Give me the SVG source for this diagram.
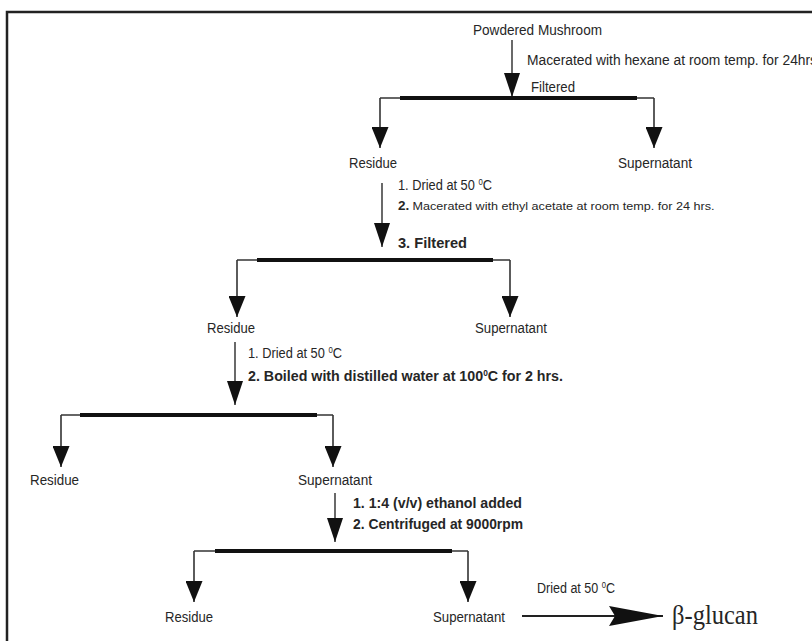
<svg xmlns="http://www.w3.org/2000/svg" width="812" height="641" viewBox="0 0 812 641">
<style>
text{font-family:"Liberation Sans",Arial,sans-serif;fill:#262626;}
.lb{font-size:14px;}
.sm{font-size:11.5px;}
.bd{font-size:14.5px;font-weight:bold;}
.sup{font-size:8.5px;}
.thin{stroke:#333;stroke-width:1.6;fill:none;}
.thick{stroke:#111;stroke-width:4;fill:none;}
.main{stroke:#444;stroke-width:1.6;fill:none;marker-end:url(#amain);}
.br{stroke:#333;stroke-width:1.6;fill:none;marker-end:url(#abr);}
.frame{stroke:#222;stroke-width:2.5;fill:none;}
.gl{font-family:"Liberation Serif","Times New Roman",serif;font-size:27px;}
</style>
<defs>
<marker id="amain" markerUnits="userSpaceOnUse" markerWidth="24" markerHeight="16" viewBox="0 0 24 16" refX="24" refY="8" orient="auto"><path d="M0,0 L24,8 L0,16 z" fill="#111"/></marker>
<marker id="abr" markerUnits="userSpaceOnUse" markerWidth="21" markerHeight="17" viewBox="0 0 21 17" refX="21" refY="8.5" orient="auto"><path d="M0,0 L21,8.5 L0,17 z" fill="#111"/></marker>
<marker id="abig" markerUnits="userSpaceOnUse" markerWidth="54" markerHeight="20" viewBox="0 0 54 20" refX="54" refY="10" orient="auto"><path d="M0,0 L54,10 L0,20 L6,10 z" fill="#111"/></marker>
</defs>
<rect width="812" height="641" fill="#fff"/>
<path class="frame" d="M7,641 V12 H812"/>

<g id="connectors">
<!-- stage 1 -->
<line class="main" x1="512" y1="40" x2="512" y2="97"/>
<line class="thin" x1="380" y1="98" x2="654" y2="98"/>
<line class="thick" x1="400" y1="98" x2="637" y2="98"/>
<line class="br" x1="380" y1="98" x2="380" y2="148"/>
<line class="br" x1="654" y1="98" x2="654" y2="148"/>
<!-- stage 2 -->
<line class="main" x1="382" y1="183" x2="382" y2="247"/>
<line class="thin" x1="237" y1="260" x2="510" y2="260"/>
<line class="thick" x1="257" y1="260" x2="493" y2="260"/>
<line class="br" x1="237" y1="260" x2="237" y2="317"/>
<line class="br" x1="510" y1="260" x2="510" y2="317"/>
<!-- stage 3 -->
<line class="main" x1="235" y1="342" x2="235" y2="405"/>
<line class="thin" x1="61" y1="415" x2="333" y2="415"/>
<line class="thick" x1="80" y1="415" x2="317" y2="415"/>
<line class="br" x1="61" y1="415" x2="61" y2="467"/>
<line class="br" x1="333" y1="415" x2="333" y2="467"/>
<!-- stage 4 -->
<line class="main" x1="335" y1="493" x2="335" y2="542"/>
<line class="thin" x1="194" y1="551" x2="468" y2="551"/>
<line class="thick" x1="215" y1="551" x2="452" y2="551"/>
<line class="br" x1="194" y1="551" x2="194" y2="602"/>
<line class="br" x1="468" y1="551" x2="468" y2="602"/>
<!-- final -->
<line x1="522" y1="616" x2="663" y2="616" stroke="#222" stroke-width="1.8" marker-end="url(#abig)"/>
</g>

<g id="n-powder"><text class="lb" x="473" y="35" textLength="129" lengthAdjust="spacingAndGlyphs">Powdered Mushroom</text></g>
<g id="step1">
<text class="lb" x="527" y="65" textLength="290" lengthAdjust="spacingAndGlyphs">Macerated with hexane  at room temp. for 24hrs</text>
<text class="lb" x="531" y="92" textLength="44" lengthAdjust="spacingAndGlyphs">Filtered</text>
</g>
<g id="n-res1"><text class="lb" x="349" y="168" textLength="48" lengthAdjust="spacingAndGlyphs">Residue</text></g>
<g id="n-sup1"><text class="lb" x="618" y="168" textLength="74" lengthAdjust="spacingAndGlyphs">Supernatant</text></g>

<g id="step2">
<text class="lb" x="398" y="190" textLength="94" lengthAdjust="spacingAndGlyphs">1. Dried at 50 <tspan class="sup" dy="-5">0</tspan><tspan dy="5">C</tspan></text>
<text class="sm" x="398" y="210"><tspan font-size="13.5" font-weight="bold">2.</tspan> <tspan textLength="302" lengthAdjust="spacingAndGlyphs">Macerated with ethyl acetate at room temp. for 24 hrs.</tspan></text>
<text class="bd" x="398" y="248" textLength="69" lengthAdjust="spacingAndGlyphs">3. Filtered</text>
</g>
<g id="n-res2"><text class="lb" x="207" y="333" textLength="48" lengthAdjust="spacingAndGlyphs">Residue</text></g>
<g id="n-sup2"><text class="lb" x="475" y="333" textLength="72" lengthAdjust="spacingAndGlyphs">Supernatant</text></g>

<g id="step3">
<text class="lb" x="248" y="358" textLength="94" lengthAdjust="spacingAndGlyphs">1. Dried at 50 <tspan class="sup" dy="-5">0</tspan><tspan dy="5">C</tspan></text>
<text class="bd" x="248" y="381" textLength="315" lengthAdjust="spacingAndGlyphs">2. Boiled with distilled water at 100<tspan class="sup" dy="-5">0</tspan><tspan dy="5">C  for 2 hrs.</tspan></text>
</g>
<g id="n-res3"><text class="lb" x="30" y="485" textLength="49" lengthAdjust="spacingAndGlyphs">Residue</text></g>
<g id="n-sup3"><text class="lb" x="298" y="485" textLength="74" lengthAdjust="spacingAndGlyphs">Supernatant</text></g>

<g id="step4">
<text class="bd" x="353" y="508" textLength="169" lengthAdjust="spacingAndGlyphs">1. 1:4 (v/v) ethanol added</text>
<text class="bd" x="353" y="529" textLength="170" lengthAdjust="spacingAndGlyphs">2. Centrifuged at 9000rpm</text>
</g>
<g id="n-res4"><text class="lb" x="165" y="622" textLength="48" lengthAdjust="spacingAndGlyphs">Residue</text></g>
<g id="n-sup4"><text class="lb" x="433" y="622" textLength="72" lengthAdjust="spacingAndGlyphs">Supernatant</text></g>

<g id="step5"><text class="lb" x="537" y="593" textLength="78" lengthAdjust="spacingAndGlyphs">Dried at 50 <tspan class="sup" dy="-5">0</tspan><tspan dy="5">C</tspan></text></g>
<g id="n-glucan"><text class="gl" x="672" y="624" textLength="86" lengthAdjust="spacingAndGlyphs">β-glucan</text></g>
</svg>
